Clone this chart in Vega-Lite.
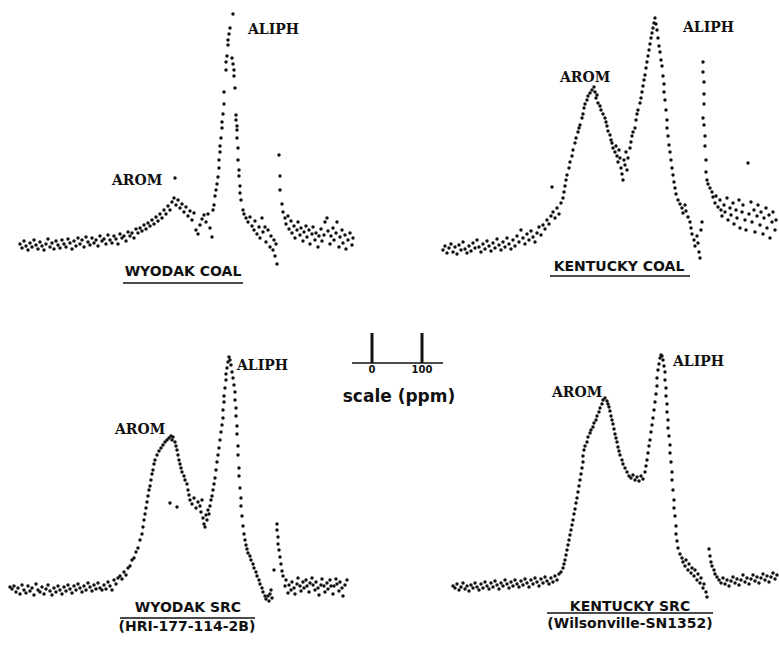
{
  "$schema": "https://vega.github.io/schema/vega-lite/v6.json",
  "background": "white",
  "padding": 0,
  "spacing": 0,
  "config": {"view": {"stroke": null}, "concat": {"spacing": 0}},
  "datasets": {
    "wyodakCoal": [{"ppm":460,"signal":1},{"ppm":456,"signal":-3},{"ppm":452,"signal":4},{"ppm":448,"signal":-1},{"ppm":444,"signal":-5},{"ppm":440,"signal":2},{"ppm":436,"signal":-2},{"ppm":432,"signal":5},{"ppm":428,"signal":0},{"ppm":424,"signal":-4},{"ppm":420,"signal":3},{"ppm":416,"signal":-1},{"ppm":412,"signal":-5},{"ppm":408,"signal":1},{"ppm":404,"signal":6},{"ppm":400,"signal":-2},{"ppm":396,"signal":2},{"ppm":392,"signal":-4},{"ppm":388,"signal":4},{"ppm":384,"signal":0},{"ppm":380,"signal":-3},{"ppm":376,"signal":5},{"ppm":372,"signal":1},{"ppm":368,"signal":-2},{"ppm":364,"signal":6},{"ppm":360,"signal":2},{"ppm":356,"signal":-4},{"ppm":352,"signal":4},{"ppm":348,"signal":-1},{"ppm":344,"signal":7},{"ppm":340,"signal":1},{"ppm":336,"signal":5},{"ppm":332,"signal":-2},{"ppm":328,"signal":8},{"ppm":324,"signal":3},{"ppm":320,"signal":0},{"ppm":316,"signal":7},{"ppm":312,"signal":2},{"ppm":308,"signal":5},{"ppm":304,"signal":-1},{"ppm":300,"signal":9},{"ppm":296,"signal":4},{"ppm":292,"signal":6},{"ppm":288,"signal":1},{"ppm":284,"signal":10},{"ppm":280,"signal":5},{"ppm":276,"signal":2},{"ppm":272,"signal":9},{"ppm":268,"signal":6},{"ppm":264,"signal":1},{"ppm":260,"signal":11},{"ppm":256,"signal":7},{"ppm":252,"signal":9},{"ppm":248,"signal":4},{"ppm":244,"signal":13},{"ppm":240,"signal":9},{"ppm":236,"signal":12},{"ppm":232,"signal":7},{"ppm":228,"signal":16},{"ppm":224,"signal":12},{"ppm":220,"signal":17},{"ppm":216,"signal":14},{"ppm":212,"signal":20},{"ppm":208,"signal":16},{"ppm":204,"signal":22},{"ppm":200,"signal":19},{"ppm":196,"signal":25},{"ppm":192,"signal":21},{"ppm":188,"signal":28},{"ppm":184,"signal":24},{"ppm":180,"signal":31},{"ppm":176,"signal":27},{"ppm":172,"signal":35},{"ppm":168,"signal":31},{"ppm":164,"signal":39},{"ppm":160,"signal":35},{"ppm":156,"signal":43},{"ppm":152,"signal":47},{"ppm":150,"signal":67},{"ppm":148,"signal":40},{"ppm":144,"signal":45},{"ppm":140,"signal":37},{"ppm":136,"signal":41},{"ppm":132,"signal":33},{"ppm":128,"signal":38},{"ppm":124,"signal":29},{"ppm":120,"signal":34},{"ppm":116,"signal":25},{"ppm":112,"signal":32},{"ppm":108,"signal":15},{"ppm":104,"signal":11},{"ppm":100,"signal":20},{"ppm":96,"signal":26},{"ppm":92,"signal":30},{"ppm":88,"signal":23},{"ppm":84,"signal":31},{"ppm":80,"signal":17},{"ppm":76,"signal":8},{"ppm":74,"signal":35},{"ppm":72,"signal":40},{"ppm":70,"signal":49},{"ppm":68,"signal":55},{"ppm":66,"signal":61},{"ppm":64,"signal":68},{"ppm":62,"signal":77},{"ppm":62,"signal":85},{"ppm":60,"signal":93},{"ppm":60,"signal":99},{"ppm":58,"signal":107},{"ppm":56,"signal":117},{"ppm":56,"signal":123},{"ppm":54,"signal":131},{"ppm":52,"signal":141},{"ppm":52,"signal":153},{"ppm":48,"signal":175},{"ppm":48,"signal":183},{"ppm":46,"signal":189},{"ppm":44,"signal":200},{"ppm":44,"signal":205},{"ppm":42,"signal":211},{"ppm":40,"signal":217},{"ppm":34,"signal":231},{"ppm":36,"signal":187},{"ppm":34,"signal":181},{"ppm":32,"signal":175},{"ppm":32,"signal":169},{"ppm":30,"signal":157},{"ppm":28,"signal":130},{"ppm":28,"signal":125},{"ppm":26,"signal":119},{"ppm":26,"signal":115},{"ppm":26,"signal":107},{"ppm":24,"signal":97},{"ppm":24,"signal":85},{"ppm":22,"signal":75},{"ppm":22,"signal":69},{"ppm":20,"signal":59},{"ppm":20,"signal":52},{"ppm":18,"signal":45},{"ppm":14,"signal":35},{"ppm":12,"signal":31},{"ppm":8,"signal":27},{"ppm":4,"signal":23},{"ppm":0,"signal":28},{"ppm":-4,"signal":19},{"ppm":-8,"signal":15},{"ppm":-10,"signal":24},{"ppm":-14,"signal":11},{"ppm":-18,"signal":18},{"ppm":-20,"signal":7},{"ppm":-24,"signal":27},{"ppm":-26,"signal":13},{"ppm":-30,"signal":18},{"ppm":-32,"signal":3},{"ppm":-36,"signal":15},{"ppm":-40,"signal":-2},{"ppm":-42,"signal":9},{"ppm":-46,"signal":-5},{"ppm":-48,"signal":5},{"ppm":-50,"signal":-11},{"ppm":-52,"signal":1},{"ppm":-54,"signal":-19},{"ppm":-58,"signal":90},{"ppm":-60,"signal":69},{"ppm":-60,"signal":55},{"ppm":-64,"signal":41},{"ppm":-66,"signal":33},{"ppm":-70,"signal":27},{"ppm":-72,"signal":21},{"ppm":-76,"signal":29},{"ppm":-78,"signal":16},{"ppm":-82,"signal":24},{"ppm":-84,"signal":12},{"ppm":-88,"signal":19},{"ppm":-90,"signal":7},{"ppm":-94,"signal":15},{"ppm":-96,"signal":23},{"ppm":-100,"signal":10},{"ppm":-102,"signal":17},{"ppm":-106,"signal":4},{"ppm":-108,"signal":13},{"ppm":-112,"signal":19},{"ppm":-114,"signal":8},{"ppm":-118,"signal":15},{"ppm":-120,"signal":1},{"ppm":-124,"signal":11},{"ppm":-126,"signal":18},{"ppm":-130,"signal":5},{"ppm":-132,"signal":12},{"ppm":-136,"signal":-2},{"ppm":-138,"signal":9},{"ppm":-142,"signal":16},{"ppm":-144,"signal":4},{"ppm":-148,"signal":10},{"ppm":-150,"signal":23},{"ppm":-154,"signal":27},{"ppm":-156,"signal":14},{"ppm":-160,"signal":1},{"ppm":-162,"signal":9},{"ppm":-166,"signal":17},{"ppm":-168,"signal":5},{"ppm":-172,"signal":12},{"ppm":-174,"signal":23},{"ppm":-178,"signal":-2},{"ppm":-180,"signal":8},{"ppm":-184,"signal":15},{"ppm":-186,"signal":2},{"ppm":-190,"signal":10},{"ppm":-192,"signal":-4},{"ppm":-196,"signal":5},{"ppm":-200,"signal":12},{"ppm":-204,"signal":0},{"ppm":-206,"signal":7}],
    "kentuckyCoal": [{"ppm":458,"signal":0},{"ppm":454,"signal":4},{"ppm":450,"signal":-3},{"ppm":446,"signal":2},{"ppm":442,"signal":6},{"ppm":438,"signal":-2},{"ppm":434,"signal":3},{"ppm":430,"signal":-4},{"ppm":426,"signal":5},{"ppm":422,"signal":0},{"ppm":418,"signal":8},{"ppm":414,"signal":1},{"ppm":410,"signal":-3},{"ppm":406,"signal":4},{"ppm":402,"signal":-1},{"ppm":398,"signal":7},{"ppm":394,"signal":2},{"ppm":390,"signal":10},{"ppm":386,"signal":3},{"ppm":382,"signal":-2},{"ppm":378,"signal":6},{"ppm":374,"signal":1},{"ppm":370,"signal":9},{"ppm":366,"signal":4},{"ppm":362,"signal":-1},{"ppm":358,"signal":7},{"ppm":354,"signal":2},{"ppm":350,"signal":11},{"ppm":346,"signal":5},{"ppm":342,"signal":0},{"ppm":338,"signal":8},{"ppm":334,"signal":3},{"ppm":330,"signal":12},{"ppm":326,"signal":6},{"ppm":322,"signal":1},{"ppm":318,"signal":10},{"ppm":314,"signal":4},{"ppm":310,"signal":14},{"ppm":306,"signal":8},{"ppm":302,"signal":20},{"ppm":298,"signal":12},{"ppm":294,"signal":6},{"ppm":290,"signal":16},{"ppm":286,"signal":10},{"ppm":282,"signal":19},{"ppm":278,"signal":13},{"ppm":274,"signal":8},{"ppm":270,"signal":17},{"ppm":266,"signal":23},{"ppm":262,"signal":15},{"ppm":258,"signal":25},{"ppm":254,"signal":21},{"ppm":250,"signal":30},{"ppm":246,"signal":26},{"ppm":242,"signal":34},{"ppm":240,"signal":63},{"ppm":238,"signal":38},{"ppm":234,"signal":32},{"ppm":230,"signal":42},{"ppm":226,"signal":36},{"ppm":222,"signal":47},{"ppm":218,"signal":52},{"ppm":216,"signal":58},{"ppm":214,"signal":64},{"ppm":212,"signal":70},{"ppm":210,"signal":75},{"ppm":206,"signal":82},{"ppm":204,"signal":88},{"ppm":200,"signal":94},{"ppm":198,"signal":100},{"ppm":194,"signal":107},{"ppm":192,"signal":112},{"ppm":188,"signal":118},{"ppm":186,"signal":122},{"ppm":184,"signal":125},{"ppm":180,"signal":132},{"ppm":178,"signal":136},{"ppm":176,"signal":142},{"ppm":174,"signal":146},{"ppm":170,"signal":150},{"ppm":168,"signal":154},{"ppm":164,"signal":157},{"ppm":160,"signal":160},{"ppm":156,"signal":163},{"ppm":154,"signal":158},{"ppm":152,"signal":152},{"ppm":150,"signal":155},{"ppm":148,"signal":147},{"ppm":144,"signal":144},{"ppm":142,"signal":140},{"ppm":138,"signal":136},{"ppm":134,"signal":132},{"ppm":132,"signal":128},{"ppm":130,"signal":124},{"ppm":128,"signal":119},{"ppm":124,"signal":115},{"ppm":122,"signal":110},{"ppm":120,"signal":107},{"ppm":118,"signal":102},{"ppm":114,"signal":98},{"ppm":112,"signal":104},{"ppm":110,"signal":94},{"ppm":108,"signal":88},{"ppm":106,"signal":100},{"ppm":104,"signal":92},{"ppm":102,"signal":82},{"ppm":100,"signal":76},{"ppm":98,"signal":70},{"ppm":96,"signal":90},{"ppm":94,"signal":85},{"ppm":92,"signal":98},{"ppm":90,"signal":80},{"ppm":88,"signal":92},{"ppm":84,"signal":102},{"ppm":82,"signal":108},{"ppm":80,"signal":114},{"ppm":78,"signal":118},{"ppm":74,"signal":122},{"ppm":72,"signal":130},{"ppm":70,"signal":136},{"ppm":68,"signal":140},{"ppm":64,"signal":147},{"ppm":62,"signal":152},{"ppm":60,"signal":158},{"ppm":58,"signal":164},{"ppm":56,"signal":170},{"ppm":54,"signal":175},{"ppm":52,"signal":182},{"ppm":50,"signal":188},{"ppm":48,"signal":194},{"ppm":46,"signal":200},{"ppm":44,"signal":206},{"ppm":42,"signal":212},{"ppm":40,"signal":217},{"ppm":38,"signal":222},{"ppm":36,"signal":227},{"ppm":34,"signal":232},{"ppm":32,"signal":226},{"ppm":30,"signal":220},{"ppm":28,"signal":212},{"ppm":26,"signal":204},{"ppm":24,"signal":198},{"ppm":22,"signal":190},{"ppm":20,"signal":184},{"ppm":18,"signal":174},{"ppm":16,"signal":166},{"ppm":16,"signal":158},{"ppm":14,"signal":150},{"ppm":12,"signal":140},{"ppm":10,"signal":130},{"ppm":10,"signal":122},{"ppm":8,"signal":114},{"ppm":6,"signal":105},{"ppm":4,"signal":98},{"ppm":2,"signal":90},{"ppm":0,"signal":82},{"ppm":-2,"signal":75},{"ppm":-4,"signal":68},{"ppm":-6,"signal":62},{"ppm":-8,"signal":56},{"ppm":-12,"signal":50},{"ppm":-16,"signal":46},{"ppm":-20,"signal":42},{"ppm":-22,"signal":37},{"ppm":-26,"signal":45},{"ppm":-28,"signal":39},{"ppm":-32,"signal":33},{"ppm":-36,"signal":28},{"ppm":-38,"signal":22},{"ppm":-40,"signal":16},{"ppm":-44,"signal":10},{"ppm":-46,"signal":4},{"ppm":-50,"signal":14},{"ppm":-52,"signal":7},{"ppm":-54,"signal":-2},{"ppm":-56,"signal":-8},{"ppm":-58,"signal":20},{"ppm":-60,"signal":28},{"ppm":-62,"signal":188},{"ppm":-62,"signal":178},{"ppm":-64,"signal":168},{"ppm":-64,"signal":156},{"ppm":-64,"signal":146},{"ppm":-62,"signal":132},{"ppm":-64,"signal":125},{"ppm":-66,"signal":114},{"ppm":-66,"signal":104},{"ppm":-68,"signal":90},{"ppm":-68,"signal":78},{"ppm":-70,"signal":70},{"ppm":-72,"signal":66},{"ppm":-76,"signal":62},{"ppm":-80,"signal":58},{"ppm":-82,"signal":53},{"ppm":-86,"signal":47},{"ppm":-88,"signal":54},{"ppm":-92,"signal":43},{"ppm":-96,"signal":50},{"ppm":-98,"signal":40},{"ppm":-100,"signal":34},{"ppm":-104,"signal":45},{"ppm":-106,"signal":38},{"ppm":-110,"signal":52},{"ppm":-112,"signal":30},{"ppm":-116,"signal":42},{"ppm":-118,"signal":35},{"ppm":-122,"signal":47},{"ppm":-124,"signal":26},{"ppm":-128,"signal":40},{"ppm":-130,"signal":32},{"ppm":-134,"signal":50},{"ppm":-136,"signal":22},{"ppm":-140,"signal":38},{"ppm":-142,"signal":45},{"ppm":-146,"signal":30},{"ppm":-148,"signal":20},{"ppm":-152,"signal":87},{"ppm":-154,"signal":36},{"ppm":-158,"signal":48},{"ppm":-160,"signal":28},{"ppm":-164,"signal":40},{"ppm":-166,"signal":18},{"ppm":-170,"signal":34},{"ppm":-172,"signal":45},{"ppm":-176,"signal":25},{"ppm":-178,"signal":38},{"ppm":-182,"signal":16},{"ppm":-184,"signal":32},{"ppm":-188,"signal":42},{"ppm":-190,"signal":22},{"ppm":-194,"signal":35},{"ppm":-196,"signal":12},{"ppm":-200,"signal":28},{"ppm":-202,"signal":38},{"ppm":-206,"signal":20},{"ppm":-208,"signal":30}],
    "wyodakSrc": [{"ppm":470,"signal":5},{"ppm":466,"signal":3},{"ppm":462,"signal":6},{"ppm":458,"signal":0},{"ppm":454,"signal":4},{"ppm":450,"signal":-2},{"ppm":446,"signal":7},{"ppm":442,"signal":2},{"ppm":438,"signal":-1},{"ppm":434,"signal":6},{"ppm":430,"signal":1},{"ppm":426,"signal":4},{"ppm":422,"signal":-3},{"ppm":418,"signal":8},{"ppm":414,"signal":2},{"ppm":410,"signal":0},{"ppm":406,"signal":5},{"ppm":402,"signal":-2},{"ppm":398,"signal":3},{"ppm":394,"signal":7},{"ppm":390,"signal":1},{"ppm":386,"signal":-3},{"ppm":382,"signal":4},{"ppm":378,"signal":0},{"ppm":374,"signal":6},{"ppm":370,"signal":2},{"ppm":366,"signal":-2},{"ppm":362,"signal":5},{"ppm":358,"signal":1},{"ppm":354,"signal":7},{"ppm":350,"signal":3},{"ppm":346,"signal":-1},{"ppm":342,"signal":6},{"ppm":338,"signal":2},{"ppm":334,"signal":8},{"ppm":330,"signal":4},{"ppm":326,"signal":0},{"ppm":322,"signal":6},{"ppm":318,"signal":2},{"ppm":314,"signal":9},{"ppm":310,"signal":5},{"ppm":306,"signal":1},{"ppm":302,"signal":7},{"ppm":298,"signal":3},{"ppm":294,"signal":9},{"ppm":290,"signal":4},{"ppm":286,"signal":2},{"ppm":282,"signal":7},{"ppm":278,"signal":3},{"ppm":274,"signal":10},{"ppm":270,"signal":6},{"ppm":266,"signal":2},{"ppm":262,"signal":12},{"ppm":258,"signal":8},{"ppm":254,"signal":14},{"ppm":250,"signal":16},{"ppm":246,"signal":13},{"ppm":242,"signal":20},{"ppm":238,"signal":17},{"ppm":234,"signal":24},{"ppm":230,"signal":26},{"ppm":226,"signal":32},{"ppm":222,"signal":34},{"ppm":218,"signal":40},{"ppm":214,"signal":44},{"ppm":210,"signal":52},{"ppm":206,"signal":58},{"ppm":204,"signal":65},{"ppm":202,"signal":72},{"ppm":200,"signal":78},{"ppm":198,"signal":84},{"ppm":196,"signal":90},{"ppm":194,"signal":96},{"ppm":192,"signal":102},{"ppm":190,"signal":106},{"ppm":188,"signal":112},{"ppm":186,"signal":118},{"ppm":184,"signal":122},{"ppm":182,"signal":128},{"ppm":180,"signal":132},{"ppm":176,"signal":137},{"ppm":172,"signal":141},{"ppm":168,"signal":144},{"ppm":164,"signal":147},{"ppm":160,"signal":150},{"ppm":156,"signal":152},{"ppm":152,"signal":154},{"ppm":148,"signal":156},{"ppm":146,"signal":152},{"ppm":144,"signal":155},{"ppm":140,"signal":150},{"ppm":138,"signal":146},{"ppm":136,"signal":142},{"ppm":134,"signal":137},{"ppm":132,"signal":132},{"ppm":130,"signal":128},{"ppm":128,"signal":124},{"ppm":126,"signal":120},{"ppm":122,"signal":116},{"ppm":120,"signal":112},{"ppm":116,"signal":108},{"ppm":114,"signal":102},{"ppm":112,"signal":97},{"ppm":110,"signal":92},{"ppm":106,"signal":88},{"ppm":102,"signal":94},{"ppm":98,"signal":84},{"ppm":94,"signal":90},{"ppm":90,"signal":86},{"ppm":88,"signal":80},{"ppm":86,"signal":92},{"ppm":84,"signal":74},{"ppm":82,"signal":68},{"ppm":80,"signal":65},{"ppm":78,"signal":77},{"ppm":76,"signal":72},{"ppm":74,"signal":82},{"ppm":72,"signal":78},{"ppm":70,"signal":86},{"ppm":68,"signal":92},{"ppm":66,"signal":96},{"ppm":64,"signal":102},{"ppm":62,"signal":108},{"ppm":60,"signal":114},{"ppm":58,"signal":122},{"ppm":56,"signal":130},{"ppm":54,"signal":137},{"ppm":52,"signal":144},{"ppm":50,"signal":152},{"ppm":48,"signal":160},{"ppm":46,"signal":167},{"ppm":44,"signal":174},{"ppm":44,"signal":182},{"ppm":42,"signal":190},{"ppm":42,"signal":196},{"ppm":40,"signal":204},{"ppm":38,"signal":212},{"ppm":38,"signal":218},{"ppm":36,"signal":224},{"ppm":34,"signal":230},{"ppm":32,"signal":235},{"ppm":30,"signal":232},{"ppm":28,"signal":227},{"ppm":26,"signal":220},{"ppm":24,"signal":214},{"ppm":22,"signal":207},{"ppm":20,"signal":200},{"ppm":20,"signal":192},{"ppm":18,"signal":184},{"ppm":18,"signal":176},{"ppm":16,"signal":166},{"ppm":16,"signal":158},{"ppm":14,"signal":146},{"ppm":14,"signal":137},{"ppm":12,"signal":124},{"ppm":12,"signal":116},{"ppm":10,"signal":104},{"ppm":8,"signal":94},{"ppm":8,"signal":86},{"ppm":6,"signal":76},{"ppm":4,"signal":66},{"ppm":2,"signal":58},{"ppm":0,"signal":52},{"ppm":-2,"signal":47},{"ppm":-4,"signal":43},{"ppm":-6,"signal":39},{"ppm":-10,"signal":36},{"ppm":-12,"signal":32},{"ppm":-16,"signal":28},{"ppm":-18,"signal":24},{"ppm":-22,"signal":20},{"ppm":-24,"signal":16},{"ppm":-28,"signal":12},{"ppm":-30,"signal":8},{"ppm":-34,"signal":4},{"ppm":-36,"signal":0},{"ppm":-40,"signal":-4},{"ppm":-42,"signal":-7},{"ppm":-46,"signal":-4},{"ppm":-48,"signal":-9},{"ppm":-50,"signal":-2},{"ppm":-52,"signal":2},{"ppm":-54,"signal":-6},{"ppm":-58,"signal":22},{"ppm":-64,"signal":68},{"ppm":-64,"signal":62},{"ppm":-66,"signal":55},{"ppm":-66,"signal":48},{"ppm":-68,"signal":42},{"ppm":-70,"signal":35},{"ppm":-72,"signal":28},{"ppm":-74,"signal":21},{"ppm":-76,"signal":16},{"ppm":-80,"signal":6},{"ppm":-82,"signal":12},{"ppm":-86,"signal":-1},{"ppm":-88,"signal":7},{"ppm":-92,"signal":2},{"ppm":-94,"signal":10},{"ppm":-98,"signal":4},{"ppm":-100,"signal":-2},{"ppm":-104,"signal":8},{"ppm":-106,"signal":14},{"ppm":-110,"signal":6},{"ppm":-112,"signal":1},{"ppm":-116,"signal":10},{"ppm":-118,"signal":4},{"ppm":-122,"signal":12},{"ppm":-124,"signal":6},{"ppm":-128,"signal":0},{"ppm":-130,"signal":9},{"ppm":-134,"signal":14},{"ppm":-136,"signal":7},{"ppm":-140,"signal":2},{"ppm":-142,"signal":10},{"ppm":-146,"signal":4},{"ppm":-148,"signal":-3},{"ppm":-152,"signal":7},{"ppm":-154,"signal":13},{"ppm":-158,"signal":6},{"ppm":-160,"signal":0},{"ppm":-164,"signal":9},{"ppm":-166,"signal":3},{"ppm":-170,"signal":12},{"ppm":-172,"signal":6},{"ppm":-176,"signal":-2},{"ppm":-178,"signal":6},{"ppm":-182,"signal":13},{"ppm":-184,"signal":8},{"ppm":-188,"signal":1},{"ppm":-190,"signal":10},{"ppm":-194,"signal":4},{"ppm":-196,"signal":-4},{"ppm":-200,"signal":7},{"ppm":-204,"signal":12},{"ppm":150,"signal":89},{"ppm":136,"signal":85}],
    "kentuckySrc": [{"ppm":450,"signal":0},{"ppm":446,"signal":-2},{"ppm":442,"signal":2},{"ppm":438,"signal":-4},{"ppm":434,"signal":-1},{"ppm":430,"signal":3},{"ppm":426,"signal":-3},{"ppm":422,"signal":0},{"ppm":418,"signal":-5},{"ppm":414,"signal":1},{"ppm":410,"signal":-2},{"ppm":406,"signal":3},{"ppm":402,"signal":-1},{"ppm":398,"signal":-4},{"ppm":394,"signal":2},{"ppm":390,"signal":-2},{"ppm":386,"signal":4},{"ppm":382,"signal":0},{"ppm":378,"signal":-3},{"ppm":374,"signal":3},{"ppm":370,"signal":-1},{"ppm":366,"signal":5},{"ppm":362,"signal":1},{"ppm":358,"signal":-3},{"ppm":354,"signal":3},{"ppm":350,"signal":0},{"ppm":346,"signal":6},{"ppm":342,"signal":2},{"ppm":338,"signal":-2},{"ppm":334,"signal":4},{"ppm":330,"signal":0},{"ppm":326,"signal":6},{"ppm":322,"signal":2},{"ppm":318,"signal":-1},{"ppm":314,"signal":5},{"ppm":310,"signal":1},{"ppm":306,"signal":7},{"ppm":302,"signal":3},{"ppm":298,"signal":-1},{"ppm":294,"signal":6},{"ppm":290,"signal":2},{"ppm":286,"signal":8},{"ppm":282,"signal":4},{"ppm":278,"signal":0},{"ppm":274,"signal":7},{"ppm":270,"signal":3},{"ppm":266,"signal":9},{"ppm":262,"signal":5},{"ppm":258,"signal":2},{"ppm":254,"signal":8},{"ppm":250,"signal":4},{"ppm":246,"signal":10},{"ppm":242,"signal":6},{"ppm":238,"signal":12},{"ppm":234,"signal":14},{"ppm":230,"signal":18},{"ppm":228,"signal":22},{"ppm":226,"signal":26},{"ppm":224,"signal":31},{"ppm":222,"signal":36},{"ppm":220,"signal":41},{"ppm":218,"signal":46},{"ppm":216,"signal":51},{"ppm":214,"signal":56},{"ppm":212,"signal":61},{"ppm":210,"signal":66},{"ppm":208,"signal":72},{"ppm":206,"signal":77},{"ppm":204,"signal":83},{"ppm":202,"signal":88},{"ppm":200,"signal":94},{"ppm":198,"signal":100},{"ppm":196,"signal":106},{"ppm":194,"signal":112},{"ppm":192,"signal":118},{"ppm":190,"signal":124},{"ppm":190,"signal":130},{"ppm":188,"signal":136},{"ppm":186,"signal":140},{"ppm":182,"signal":144},{"ppm":180,"signal":149},{"ppm":176,"signal":153},{"ppm":174,"signal":156},{"ppm":170,"signal":159},{"ppm":168,"signal":163},{"ppm":164,"signal":166},{"ppm":162,"signal":170},{"ppm":158,"signal":174},{"ppm":156,"signal":178},{"ppm":152,"signal":182},{"ppm":150,"signal":186},{"ppm":146,"signal":188},{"ppm":142,"signal":185},{"ppm":140,"signal":182},{"ppm":138,"signal":179},{"ppm":136,"signal":175},{"ppm":134,"signal":170},{"ppm":132,"signal":166},{"ppm":130,"signal":162},{"ppm":128,"signal":157},{"ppm":126,"signal":152},{"ppm":124,"signal":148},{"ppm":122,"signal":144},{"ppm":120,"signal":139},{"ppm":118,"signal":135},{"ppm":116,"signal":131},{"ppm":112,"signal":126},{"ppm":110,"signal":122},{"ppm":106,"signal":118},{"ppm":102,"signal":114},{"ppm":98,"signal":110},{"ppm":94,"signal":108},{"ppm":90,"signal":111},{"ppm":86,"signal":106},{"ppm":82,"signal":109},{"ppm":78,"signal":105},{"ppm":74,"signal":110},{"ppm":70,"signal":107},{"ppm":66,"signal":114},{"ppm":64,"signal":120},{"ppm":62,"signal":126},{"ppm":60,"signal":133},{"ppm":58,"signal":140},{"ppm":56,"signal":146},{"ppm":54,"signal":154},{"ppm":52,"signal":161},{"ppm":50,"signal":168},{"ppm":48,"signal":176},{"ppm":46,"signal":184},{"ppm":44,"signal":192},{"ppm":42,"signal":200},{"ppm":42,"signal":208},{"ppm":40,"signal":216},{"ppm":38,"signal":222},{"ppm":36,"signal":228},{"ppm":34,"signal":231},{"ppm":32,"signal":230},{"ppm":30,"signal":226},{"ppm":28,"signal":220},{"ppm":26,"signal":214},{"ppm":26,"signal":206},{"ppm":24,"signal":198},{"ppm":24,"signal":190},{"ppm":22,"signal":182},{"ppm":22,"signal":174},{"ppm":20,"signal":166},{"ppm":20,"signal":158},{"ppm":18,"signal":150},{"ppm":16,"signal":141},{"ppm":16,"signal":133},{"ppm":14,"signal":124},{"ppm":12,"signal":114},{"ppm":12,"signal":106},{"ppm":10,"signal":96},{"ppm":8,"signal":86},{"ppm":8,"signal":78},{"ppm":6,"signal":70},{"ppm":4,"signal":60},{"ppm":4,"signal":52},{"ppm":2,"signal":45},{"ppm":0,"signal":38},{"ppm":-4,"signal":32},{"ppm":-8,"signal":28},{"ppm":-10,"signal":24},{"ppm":-14,"signal":20},{"ppm":-16,"signal":26},{"ppm":-20,"signal":16},{"ppm":-22,"signal":22},{"ppm":-26,"signal":13},{"ppm":-28,"signal":18},{"ppm":-32,"signal":10},{"ppm":-34,"signal":16},{"ppm":-38,"signal":6},{"ppm":-40,"signal":12},{"ppm":-44,"signal":3},{"ppm":-46,"signal":8},{"ppm":-50,"signal":-2},{"ppm":-52,"signal":2},{"ppm":-56,"signal":-6},{"ppm":-58,"signal":-11},{"ppm":-62,"signal":37},{"ppm":-64,"signal":30},{"ppm":-66,"signal":24},{"ppm":-68,"signal":20},{"ppm":-72,"signal":16},{"ppm":-74,"signal":12},{"ppm":-78,"signal":9},{"ppm":-82,"signal":6},{"ppm":-86,"signal":3},{"ppm":-90,"signal":8},{"ppm":-94,"signal":2},{"ppm":-98,"signal":6},{"ppm":-102,"signal":0},{"ppm":-106,"signal":5},{"ppm":-110,"signal":9},{"ppm":-114,"signal":3},{"ppm":-118,"signal":7},{"ppm":-122,"signal":1},{"ppm":-126,"signal":6},{"ppm":-130,"signal":11},{"ppm":-134,"signal":4},{"ppm":-138,"signal":8},{"ppm":-142,"signal":2},{"ppm":-146,"signal":7},{"ppm":-150,"signal":11},{"ppm":-154,"signal":5},{"ppm":-158,"signal":9},{"ppm":-162,"signal":3},{"ppm":-166,"signal":8},{"ppm":-170,"signal":12},{"ppm":-174,"signal":6},{"ppm":-178,"signal":10},{"ppm":-182,"signal":4},{"ppm":-186,"signal":9},{"ppm":-190,"signal":13},{"ppm":-194,"signal":7},{"ppm":-198,"signal":11}]
  },
  "vconcat": [
    {
      "bounds": "flush",
      "spacing": 0,
      "hconcat": [
        {
          "width": 390, "height": 320,
          "encoding": {
            "x": {"field": "ppm", "type": "quantitative", "scale": {"domain": [-280, 500], "reverse": true, "nice": false, "zero": false}, "axis": null},
            "y": {"field": "signal", "type": "quantitative", "scale": {"domain": [-75, 245], "nice": false, "zero": false}, "axis": null}
          },
          "layer": [
            {"data": {"name": "wyodakCoal"}, "mark": {"type": "point", "filled": true, "size": 12, "color": "#111", "opacity": 1}},
            {"data": {"values": [{"ppm": 4, "signal": 215, "label": "ALIPH"}, {"ppm": 276, "signal": 64, "label": "AROM"}]}, "mark": {"type": "text", "align": "left", "baseline": "middle", "font": "DejaVu Serif", "fontWeight": "bold", "fontSize": 14, "color": "#111"}, "encoding": {"text": {"field": "label"}}},
            {"data": {"values": [{"ppm": 134, "signal": -27, "label": "WYODAK COAL"}]}, "mark": {"type": "text", "align": "center", "baseline": "middle", "font": "DejaVu Sans", "fontWeight": "bold", "fontSize": 14, "color": "#111"}, "encoding": {"text": {"field": "label"}}},
            {"data": {"values": [{"ppm": 254, "ppm2": 14, "signal": -38}]}, "mark": {"type": "rule", "strokeWidth": 1.5, "color": "#111"}, "encoding": {"x2": {"field": "ppm2"}}}
          ]
        },
        {
          "width": 389, "height": 320,
          "encoding": {
            "x": {"field": "ppm", "type": "quantitative", "scale": {"domain": [-214, 564], "reverse": true, "nice": false, "zero": false}, "axis": null},
            "y": {"field": "signal", "type": "quantitative", "scale": {"domain": [-70, 250], "nice": false, "zero": false}, "axis": null}
          },
          "layer": [
            {"data": {"name": "kentuckyCoal"}, "mark": {"type": "point", "filled": true, "size": 12, "color": "#111", "opacity": 1}},
            {"data": {"values": [{"ppm": -22, "signal": 222, "label": "ALIPH"}, {"ppm": 224, "signal": 172, "label": "AROM"}]}, "mark": {"type": "text", "align": "left", "baseline": "middle", "font": "DejaVu Serif", "fontWeight": "bold", "fontSize": 14, "color": "#111"}, "encoding": {"text": {"field": "label"}}},
            {"data": {"values": [{"ppm": 106, "signal": -17, "label": "KENTUCKY COAL"}]}, "mark": {"type": "text", "align": "center", "baseline": "middle", "font": "DejaVu Sans", "fontWeight": "bold", "fontSize": 14, "color": "#111"}, "encoding": {"text": {"field": "label"}}},
            {"data": {"values": [{"ppm": 244, "ppm2": -36, "signal": -26}]}, "mark": {"type": "rule", "strokeWidth": 1.5, "color": "#111"}, "encoding": {"x2": {"field": "ppm2"}}}
          ]
        }
      ]
    },
    {
      "bounds": "flush",
      "spacing": 0,
      "hconcat": [
        {
          "width": 352, "height": 329,
          "encoding": {
            "x": {"field": "ppm", "type": "quantitative", "scale": {"domain": [-214, 490], "reverse": true, "nice": false, "zero": false}, "axis": null},
            "y": {"field": "signal", "type": "quantitative", "scale": {"domain": [-57, 272], "nice": false, "zero": false}, "axis": null}
          },
          "layer": [
            {"data": {"name": "wyodakSrc"}, "mark": {"type": "point", "filled": true, "size": 12, "color": "#111", "opacity": 1}},
            {"data": {"values": [{"ppm": 16, "signal": 226, "label": "ALIPH"}, {"ppm": 260, "signal": 162, "label": "AROM"}]}, "mark": {"type": "text", "align": "left", "baseline": "middle", "font": "DejaVu Serif", "fontWeight": "bold", "fontSize": 14, "color": "#111"}, "encoding": {"text": {"field": "label"}}},
            {"data": {"values": [{"ppm": 114, "signal": -16, "label": "WYODAK SRC"}, {"ppm": 116, "signal": -35, "label": "(HRI-177-114-2B)"}]}, "mark": {"type": "text", "align": "center", "baseline": "middle", "font": "DejaVu Sans", "fontWeight": "bold", "fontSize": 14, "color": "#111"}, "encoding": {"text": {"field": "label"}}},
            {"data": {"values": [{"ppm": 250, "ppm2": -20, "signal": -26}]}, "mark": {"type": "rule", "strokeWidth": 1.5, "color": "#111"}, "encoding": {"x2": {"field": "ppm2"}}}
          ]
        },
        {
          "width": 91, "height": 329,
          "encoding": {
            "x": {"field": "ppm", "type": "quantitative", "scale": {"domain": [-40, 142], "nice": false, "zero": false}, "axis": null},
            "y": {"field": "level", "type": "quantitative", "scale": {"domain": [-286, 43], "nice": false, "zero": false}, "axis": null}
          },
          "layer": [
            {"data": {"values": [{"ppm": -40, "ppm2": 142, "level": 0}]}, "mark": {"type": "rule", "strokeWidth": 1.5, "color": "#111"}, "encoding": {"x2": {"field": "ppm2"}}},
            {"data": {"values": [{"ppm": 0, "level": 0, "level2": 30}, {"ppm": 100, "level": 0, "level2": 30}]}, "mark": {"type": "rule", "strokeWidth": 3, "color": "#111"}, "encoding": {"y2": {"field": "level2"}}},
            {"data": {"values": [{"ppm": 0, "level": -7, "label": "0"}, {"ppm": 100, "level": -7, "label": "100"}]}, "mark": {"type": "text", "align": "center", "baseline": "middle", "font": "DejaVu Sans", "fontWeight": "bold", "fontSize": 10, "color": "#111"}, "encoding": {"text": {"field": "label"}}},
            {"data": {"values": [{"ppm": 54, "level": -34, "label": "scale  (ppm)"}]}, "mark": {"type": "text", "align": "center", "baseline": "middle", "font": "DejaVu Sans", "fontWeight": "bold", "fontSize": 17, "color": "#111"}, "encoding": {"text": {"field": "label"}}}
          ]
        },
        {
          "width": 336, "height": 329,
          "encoding": {
            "x": {"field": "ppm", "type": "quantitative", "scale": {"domain": [-202, 470], "reverse": true, "nice": false, "zero": false}, "axis": null},
            "y": {"field": "signal", "type": "quantitative", "scale": {"domain": [-63, 266], "nice": false, "zero": false}, "axis": null}
          },
          "layer": [
            {"data": {"name": "kentuckySrc"}, "mark": {"type": "point", "filled": true, "size": 12, "color": "#111", "opacity": 1}},
            {"data": {"values": [{"ppm": 10, "signal": 224, "label": "ALIPH"}, {"ppm": 252, "signal": 193, "label": "AROM"}]}, "mark": {"type": "text", "align": "left", "baseline": "middle", "font": "DejaVu Serif", "fontWeight": "bold", "fontSize": 14, "color": "#111"}, "encoding": {"text": {"field": "label"}}},
            {"data": {"values": [{"ppm": 96, "signal": -21, "label": "KENTUCKY SRC"}, {"ppm": 96, "signal": -38, "label": "(Wilsonville-SN1352)"}]}, "mark": {"type": "text", "align": "center", "baseline": "middle", "font": "DejaVu Sans", "fontWeight": "bold", "fontSize": 14, "color": "#111"}, "encoding": {"text": {"field": "label"}}},
            {"data": {"values": [{"ppm": 262, "ppm2": -70, "signal": -27}]}, "mark": {"type": "rule", "strokeWidth": 1.5, "color": "#111"}, "encoding": {"x2": {"field": "ppm2"}}}
          ]
        }
      ]
    }
  ]
}
